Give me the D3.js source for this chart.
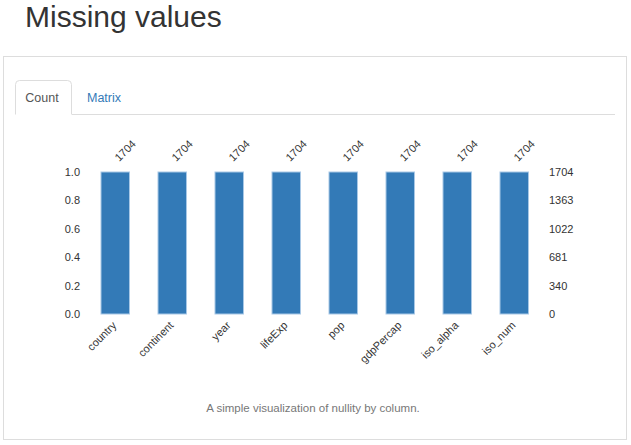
<!DOCTYPE html>
<html>
<head>
<meta charset="utf-8">
<script src="https://cdn.jsdelivr.net/npm/d3@7"></script>
<style>
  body { margin: 0; background: #fff; }
  text { font-family: "Liberation Sans", Arial, sans-serif; }
</style>
</head>
<body>
<div id="chart"></div>
<script>
// data
const columns = ["country", "continent", "year", "lifeExp", "pop", "gdpPercap", "iso_alpha", "iso_num"];
const counts = [1704, 1704, 1704, 1704, 1704, 1704, 1704, 1704];
const total = 1704;
const leftTicks = [0, 0.2, 0.4, 0.6, 0.8, 1.0];
const rightTickLabels = ["0", "340", "681", "1022", "1363", "1704"];

const w = 631, h = 445;

const svg = d3.select("#chart")
  .append("svg")
  .attr("width", w)
  .attr("height", h);

// page title
svg.append("text")
  .attr("x", 25)
  .attr("y", 27)
  .attr("font-size", 30)
  .attr("fill", "#333")
  .text("Missing values");

// panel
svg.append("rect")
  .attr("x", 3.5).attr("y", 56.5)
  .attr("width", 623).attr("height", 383)
  .attr("fill", "none")
  .attr("stroke", "#ddd");

// tabs
svg.append("line")
  .attr("x1", 72).attr("x2", 615)
  .attr("y1", 114.5).attr("y2", 114.5)
  .attr("stroke", "#ddd");
svg.append("path")
  .attr("d", "M15.5,114.5 V84.5 Q15.5,80.5 19.5,80.5 H67.5 Q71.5,80.5 71.5,84.5 V114.5")
  .attr("fill", "#fff")
  .attr("stroke", "#ddd");
svg.append("text")
  .attr("x", 42).attr("y", 102)
  .attr("text-anchor", "middle")
  .attr("font-size", 12.5)
  .attr("fill", "#555")
  .text("Count");
svg.append("text")
  .attr("x", 87).attr("y", 102)
  .attr("font-size", 12.5)
  .attr("fill", "#337ab7")
  .text("Matrix");

// scales
const xScale = d3.scaleBand()
  .domain(columns)
  .range([86.75, 542.75])
  .paddingInner(0.5)
  .paddingOuter(0.25);

const yScale = d3.scaleLinear()
  .domain([0, 1])
  .range([314, 172]);

const yRight = d3.scaleLinear()
  .domain([0, total])
  .range([314, 172]);

// left axis
const yAxis = d3.axisLeft(yScale)
  .tickValues(leftTicks)
  .tickFormat(d3.format(".1f"))
  .tickSize(0)
  .tickPadding(0);

svg.append("g")
  .attr("id", "y-axis")
  .attr("transform", "translate(80,0)")
  .call(yAxis)
  .call(g => g.select(".domain").remove())
  .call(g => g.selectAll("text")
    .attr("font-size", 11)
    .attr("font-family", "Liberation Sans, Arial, sans-serif")
    .attr("fill", "#333"));

// right axis
const yAxisRight = d3.axisRight(yScale)
  .tickValues(leftTicks)
  .tickFormat((d, i) => rightTickLabels[i])
  .tickSize(0)
  .tickPadding(0);

svg.append("g")
  .attr("id", "y-axis-right")
  .attr("transform", "translate(549,0)")
  .call(yAxisRight)
  .call(g => g.select(".domain").remove())
  .call(g => g.selectAll("text")
    .attr("font-size", 11)
    .attr("font-family", "Liberation Sans, Arial, sans-serif")
    .attr("fill", "#333"));

// bars
svg.selectAll("rect.bar")
  .data(columns)
  .enter()
  .append("rect")
  .attr("class", "bar")
  .attr("x", d => xScale(d))
  .attr("y", (d, i) => yRight(counts[i]))
  .attr("width", xScale.bandwidth())
  .attr("height", (d, i) => yRight(0) - yRight(counts[i]))
  .attr("fill", "#337ab7")
  .attr("stroke", "#a8c8e6")
  .attr("stroke-width", 1);

// count labels on top
svg.selectAll("text.count")
  .data(columns)
  .enter()
  .append("text")
  .attr("class", "count")
  .attr("font-size", 11)
  .attr("fill", "#333")
  .attr("transform", (d, i) => {
    const x = xScale(d) + xScale.bandwidth() / 2 + 4;
    const y = yRight(counts[i]) - 10;
    return "translate(" + x + "," + y + ") rotate(-45)";
  })
  .text((d, i) => counts[i]);

// column labels below
svg.selectAll("text.col")
  .data(columns)
  .enter()
  .append("text")
  .attr("class", "col")
  .attr("font-size", 11)
  .attr("fill", "#333")
  .attr("text-anchor", "end")
  .attr("transform", d => {
    const x = xScale(d) + xScale.bandwidth() / 2 + 2;
    return "translate(" + x + ",326) rotate(-45)";
  })
  .text(d => d);

// caption
svg.append("text")
  .attr("x", 313)
  .attr("y", 412)
  .attr("text-anchor", "middle")
  .attr("font-size", 11.5)
  .attr("fill", "#777")
  .text("A simple visualization of nullity by column.");
</script>
</body>
</html>
